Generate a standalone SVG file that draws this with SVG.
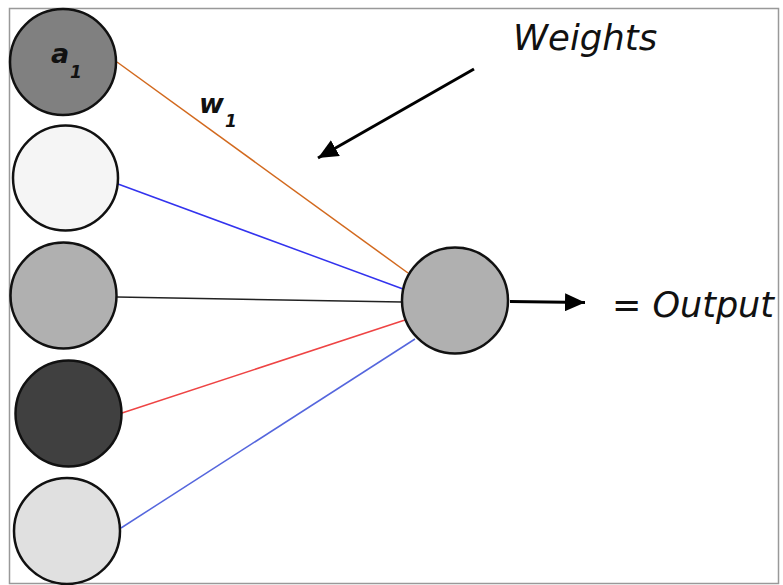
<svg xmlns="http://www.w3.org/2000/svg" width="783" height="585" viewBox="0 0 783 585">
<style>
.n{stroke:#111;stroke-width:2.5}
.t{font-family:"DejaVu Sans",Verdana,sans-serif;font-style:italic;fill:#111}
.b{font-weight:bold}
</style>
<defs>
<marker id="ah" viewBox="0 0 20 18" refX="20" refY="9" markerWidth="20" markerHeight="18" markerUnits="userSpaceOnUse" orient="auto"><path d="M0,0 L20,9 L0,18 z" fill="#000"/></marker>
</defs>
<rect x="0" y="0" width="783" height="585" fill="#fff"/>
<rect x="9.5" y="8.5" width="769" height="575" fill="none" stroke="#999" stroke-width="1.5"/>
<g id="connectors">
<line x1="117" y1="62" x2="408" y2="273" stroke="#D2691E" stroke-width="1.5"/>
<line x1="118" y1="184" x2="403" y2="289" stroke="#3333EE" stroke-width="1.5"/>
<line x1="117" y1="297" x2="402" y2="302" stroke="#222" stroke-width="1.5"/>
<line x1="122" y1="413" x2="405" y2="320" stroke="#EE4444" stroke-width="1.5"/>
<line x1="121" y1="528" x2="415" y2="339" stroke="#5566DD" stroke-width="1.5"/>
<line x1="510" y1="301.5" x2="585" y2="302.5" stroke="#000" stroke-width="3" marker-end="url(#ah)"/>
<line x1="474" y1="69" x2="318" y2="158" stroke="#000" stroke-width="3" marker-end="url(#ah)"/>
</g>
<g id="a1"><circle class="n" cx="63" cy="62" r="53" fill="#808080"/>
<text class="t b" x="51" y="63" font-size="27">a</text><text class="t b" x="70" y="78" font-size="17">1</text></g>
<g id="in2"><circle class="n" cx="65.5" cy="178" r="52.5" fill="#F5F5F5"/></g>
<g id="in3"><circle class="n" cx="63.5" cy="295.5" r="53" fill="#B0B0B0"/></g>
<g id="in4"><circle class="n" cx="68.5" cy="413.5" r="53" fill="#404040"/></g>
<g id="in5"><circle class="n" cx="67" cy="531" r="53" fill="#E0E0E0"/></g>
<g id="out"><circle class="n" cx="455" cy="300.5" r="53" fill="#B0B0B0"/></g>
<g id="labels">
<text class="t b" x="199" y="113" font-size="27">w</text><text class="t b" x="225" y="127" font-size="17">1</text>
<text class="t" x="513" y="50" font-size="35.5">Weights</text>
<text class="t" x="612" y="317" font-size="35">= Output</text>
</g>
</svg>
